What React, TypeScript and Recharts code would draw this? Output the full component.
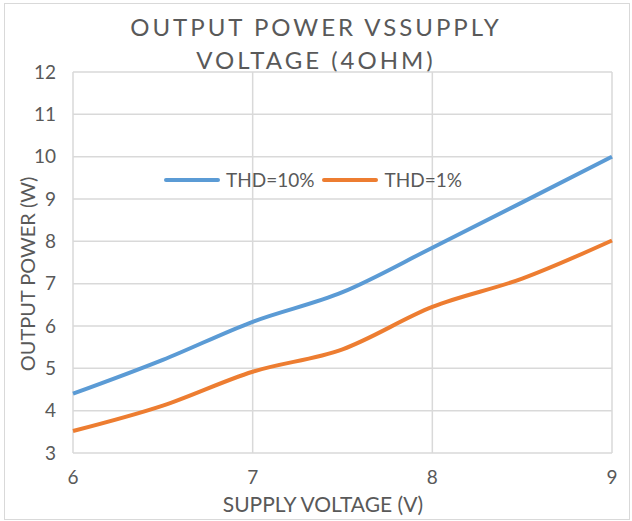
import { LineChart, Line, XAxis, YAxis, CartesianGrid, Label } from 'recharts';

const voltages = [6, 6.5, 7, 7.5, 8, 8.5, 9];
const thd10 = [4.4, 5.2, 6.1, 6.8, 7.85, 8.92, 10];
const thd1 = [3.52, 4.12, 4.92, 5.45, 6.45, 7.12, 8.02];
const xTicks = [6, 7, 8, 9];
const yTicks = [3, 4, 5, 6, 7, 8, 9, 10, 11, 12];

const data = voltages.map((v, i) => ({ v, thd10: thd10[i], thd1: thd1[i] }));

const FONT = 'Lato, "Open Sans", sans-serif';
const GREY = '#595959';
const BLUE = '#5B9BD5';
const ORANGE = '#ED7D31';

const legendItems = [
  { name: 'THD=10%', color: BLUE },
  { name: 'THD=1%', color: ORANGE },
];

function ChartLegend() {
  return (
    <div
      style={{
        position: 'absolute',
        top: 168,
        left: 164,
        display: 'flex',
        alignItems: 'center',
        fontFamily: FONT,
        fontSize: 19,
        color: GREY,
      }}
    >
      {legendItems.map((item) => (
        <div key={item.name} style={{ display: 'flex', alignItems: 'center', marginRight: 8 }}>
          <svg width={56} height={6} style={{ marginRight: 6 }}>
            <line x1={2} y1={3} x2={54} y2={3} stroke={item.color} strokeWidth={4} strokeLinecap="round" />
          </svg>
          <span>{item.name}</span>
        </div>
      ))}
    </div>
  );
}

export default function App() {
  return (
    <div
      style={{
        position: 'absolute',
        left: 0,
        top: 0,
        width: 632,
        height: 521,
        background: '#fff',
      }}
    >
      <div
        style={{
          position: 'absolute',
          left: 4,
          top: 3,
          width: 624,
          height: 515,
          border: '1px solid #d9d9d9',
        }}
      />
      <div
        style={{
          position: 'absolute',
          left: 0,
          top: 10,
          width: 632,
          textAlign: 'center',
          fontFamily: FONT,
          fontSize: 24,
          letterSpacing: 3,
          lineHeight: '33px',
          color: GREY,
        }}
      >
        <div>OUTPUT POWER VSSUPPLY</div>
        <div>VOLTAGE (4OHM)</div>
      </div>
      <LineChart
        width={632}
        height={521}
        data={data}
        margin={{ top: 72, right: 20, bottom: 38, left: 0 }}
        style={{ position: 'absolute', left: 0, top: 0 }}
      >
        <CartesianGrid stroke="#d9d9d9" strokeWidth={1.5} />
        <XAxis
          dataKey="v"
          type="number"
          domain={[6, 9]}
          ticks={xTicks}
          height={30}
          axisLine={false}
          tickLine={false}
          tickSize={0}
          tickMargin={18}
          tick={{ fill: GREY, fontSize: 19, fontFamily: FONT }}
        >
          <Label
            content={() => (
              <text x={323} y={512} textAnchor="middle" fill={GREY} fontSize={21} fontFamily={FONT}>
                SUPPLY VOLTAGE (V)
              </text>
            )}
          />
        </XAxis>
        <YAxis
          type="number"
          domain={[3, 12]}
          ticks={yTicks}
          width={73}
          axisLine={false}
          tickLine={false}
          tickSize={0}
          tickMargin={17}
          tick={{ fill: GREY, fontSize: 19, fontFamily: FONT }}
        >
          <Label
            content={() => (
              <text
                x={27}
                y={274}
                transform="rotate(-90 27 274)"
                textAnchor="middle"
                dominantBaseline="central"
                fill={GREY}
                fontSize={20}
                fontFamily={FONT}
              >
                OUTPUT POWER (W)
              </text>
            )}
          />
        </YAxis>
        <Line type="monotone" dataKey="thd10" name="THD=10%" stroke={BLUE} strokeWidth={4} dot={false} isAnimationActive={false} />
        <Line type="monotone" dataKey="thd1" name="THD=1%" stroke={ORANGE} strokeWidth={4} dot={false} isAnimationActive={false} />
      </LineChart>
      <ChartLegend />
    </div>
  );
}
